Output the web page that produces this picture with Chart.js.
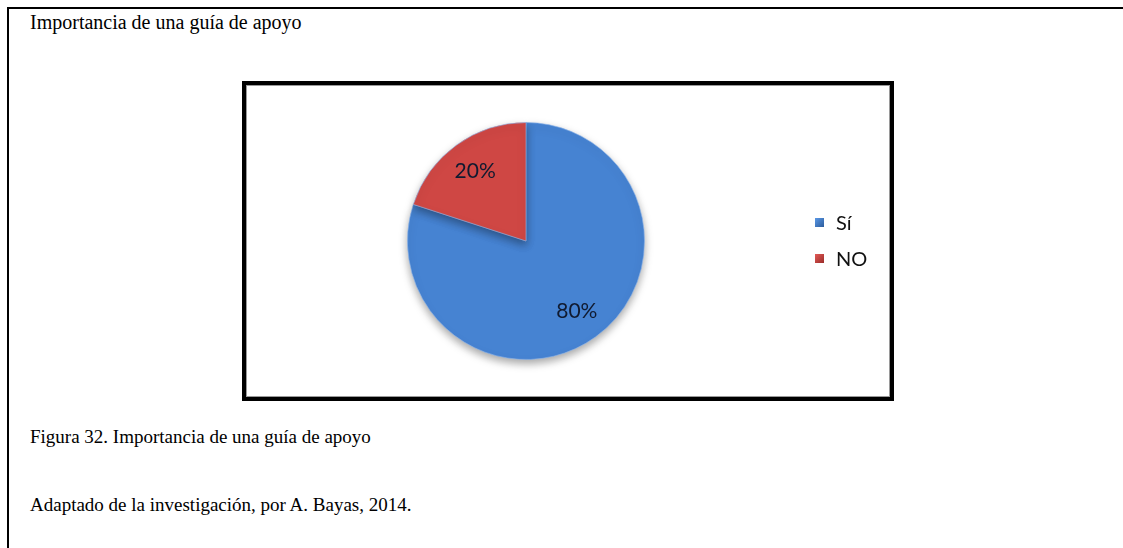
<!DOCTYPE html>
<html>
<head>
<meta charset="utf-8">
<script src="https://cdn.jsdelivr.net/npm/chart.js@4"></script>
<style>
  html, body { margin: 0; padding: 0; background: #fff; }
  body { width: 1123px; height: 548px; position: relative; overflow: hidden; }
  .frame-top { position: absolute; left: 7px; top: 7px; width: 1116px; height: 2px; background: #000; }
  .frame-left { position: absolute; left: 7px; top: 7px; width: 2px; height: 541px; background: #000; }
  .txt { position: absolute; left: 30px; font-family: "Liberation Serif", "Times New Roman", serif; font-size: 20px; color: #000; white-space: nowrap; line-height: 1; }
  #box { position: absolute; left: 242px; top: 81px; width: 644px; height: 312px; border: 4px solid #000; box-shadow: inset 0 0 0 1px #9a9a9a; background: #fff; }
  #legend { position: absolute; left: 569px; top: 124px; font-family: "Lato", "Open Sans", sans-serif; font-size: 20px; color: #111; }
  .li { position: relative; height: 36px; }
  .sw { position: absolute; left: 0; top: 9px; width: 9px; height: 9px; }
  .lt { position: absolute; left: 21px; top: 0px; line-height: 26px; }
</style>
</head>
<body>
<div class="frame-top"></div>
<div class="frame-left"></div>
<div class="txt" id="title" style="top:12px;">Importancia de una guía de apoyo</div>
<div id="box">
  <canvas id="c" width="644" height="312" style="position:absolute;left:0;top:0;width:644px;height:312px;"></canvas>
  <div id="legend"></div>
</div>
<div class="txt" id="cap1" style="top:427px;font-size:19px;">Figura 32. Importancia de una guía de apoyo</div>
<div class="txt" id="cap2" style="top:495px;font-size:19px;">Adaptado de la investigación, por A. Bayas, 2014.</div>
<script>
const categories = ["Sí", "NO"];
const values = [80, 20];
const valueLabels = ["80%", "20%"];
const baseColors = ["#4683d2", "#cf4744"];
const edgeColors = ["#2c5c9c", "#9a2c29"];
const lightColors = ["#5a98e6", "#e25a56"];

function radialFill(ctx, i) {
  const chart = ctx.chart;
  const area = chart.chartArea;
  if (!area) return baseColors[i];
  const meta = chart.getDatasetMeta(0);
  const el = meta.data[i];
  if (!el || !el.outerRadius) return baseColors[i];
  const g = chart.ctx.createRadialGradient(el.x, el.y, 0, el.x, el.y, el.outerRadius);
  g.addColorStop(0, lightColors[i]);
  g.addColorStop(0.5, baseColors[i]);
  g.addColorStop(0.9, baseColors[i]);
  g.addColorStop(1, edgeColors[i]);
  return g;
}

const shadowPlugin = {
  id: 'pieShadow',
  beforeDatasetsDraw(chart) {
    const c = chart.ctx;
    c.save();
    c.shadowColor = 'rgba(0,0,0,0.35)';
    c.shadowBlur = 8;
    c.shadowOffsetY = 4;
  },
  afterDatasetsDraw(chart) {
    chart.ctx.restore();
  }
};

const labelPlugin = {
  id: 'sliceLabels',
  afterDraw(chart) {
    const c = chart.ctx;
    const meta = chart.getDatasetMeta(0);
    c.save();
    c.font = '21px "Lato", "Open Sans", sans-serif';
    c.fillStyle = '#101a30';
    c.textAlign = 'center';
    c.textBaseline = 'middle';
    meta.data.forEach((el, i) => {
      const mid = (el.startAngle + el.endAngle) / 2;
      const r = el.outerRadius * 0.73;
      c.fillText(valueLabels[i], el.x + Math.cos(mid) * r, el.y + Math.sin(mid) * r);
    });
    c.restore();
  }
};

new Chart(document.getElementById('c'), {
  type: 'pie',
  data: {
    labels: categories,
    datasets: [{
      data: values,
      backgroundColor: (ctx) => radialFill(ctx, ctx.dataIndex),
      borderColor: 'rgba(140,180,235,0.6)',
      borderWidth: 1
    }]
  },
  options: {
    responsive: false,
    animation: false,
    rotation: 0,
    layout: { padding: { left: 161, right: 245, top: 37, bottom: 37 } },
    plugins: {
      legend: { display: false },
      tooltip: { enabled: false },
      title: { display: false }
    }
  },
  plugins: [shadowPlugin, labelPlugin]
});

const legend = document.getElementById('legend');
categories.forEach((name, i) => {
  const item = document.createElement('div');
  item.className = 'li';
  const sw = document.createElement('div');
  sw.className = 'sw';
  sw.style.background = 'linear-gradient(135deg,' + lightColors[i] + ',' + edgeColors[i] + ')';
  const t = document.createElement('div');
  t.className = 'lt';
  t.textContent = name;
  item.appendChild(sw);
  item.appendChild(t);
  legend.appendChild(item);
});
</script>
</body>
</html>
